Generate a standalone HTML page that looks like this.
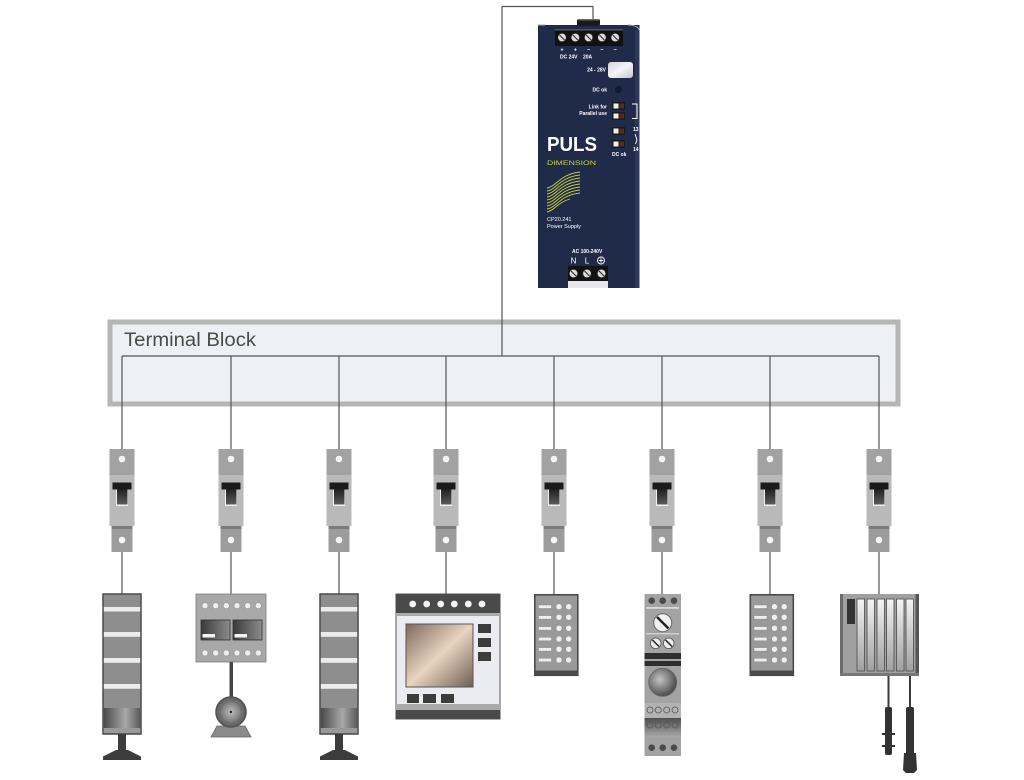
<!DOCTYPE html>
<html><head><meta charset="utf-8"><style>
html,body{margin:0;padding:0;background:#fff;}
svg{display:block;}
text{font-family:"Liberation Sans",Arial,sans-serif;}
</style></head><body>
<svg width="1024" height="780" viewBox="0 0 1024 780" xmlns="http://www.w3.org/2000/svg">
<defs>
 <linearGradient id="lever" x1="0" y1="0" x2="0" y2="1"><stop offset="0" stop-color="#222"/><stop offset="1" stop-color="#5a5a5a"/></linearGradient>
 <linearGradient id="towerDark" x1="0" y1="0" x2="1" y2="0"><stop offset="0" stop-color="#4a4a4a"/><stop offset="0.6" stop-color="#a8a8a8"/><stop offset="1" stop-color="#5a5a5a"/></linearGradient>
 <linearGradient id="win" x1="0" y1="0" x2="1" y2="0"><stop offset="0" stop-color="#3a3a3a"/><stop offset="1" stop-color="#8c8c8c"/></linearGradient>
 <linearGradient id="screen" x1="0" y1="0" x2="1" y2="1"><stop offset="0" stop-color="#7e695c"/><stop offset="0.5" stop-color="#e9d4c0"/><stop offset="1" stop-color="#6f5e54"/></linearGradient>
 <radialGradient id="motor" cx="0.5" cy="0.5" r="0.5"><stop offset="0" stop-color="#bdbdbd"/><stop offset="1" stop-color="#5a5a5a"/></radialGradient>
 <radialGradient id="bigc" cx="0.4" cy="0.4" r="0.6"><stop offset="0" stop-color="#c4c4c4"/><stop offset="1" stop-color="#4e4e4e"/></radialGradient>
 <linearGradient id="slot" x1="0" y1="0" x2="0" y2="1"><stop offset="0" stop-color="#f4f4f4"/><stop offset="1" stop-color="#a0a0a0"/></linearGradient>
 <linearGradient id="relay" x1="0" y1="0" x2="0" y2="1"><stop offset="0" stop-color="#4e4e4e"/><stop offset="1" stop-color="#a8a8a8"/></linearGradient>
 <linearGradient id="btn" x1="0" y1="0" x2="1" y2="1"><stop offset="0" stop-color="#cfd2d8"/><stop offset="0.5" stop-color="#f5f6f8"/><stop offset="1" stop-color="#c2c5cc"/></linearGradient>

 <g id="brk">
  <rect x="-12.5" y="449" width="25" height="26" fill="#a2a2a2"/>
  <rect x="-12.5" y="475" width="25" height="51" fill="#b9b9b9"/>
  <rect x="-10.5" y="526" width="21" height="26" fill="#9c9c9c"/>
  <rect x="-10.5" y="526" width="21" height="3" fill="#7c7c7c"/>
  <circle cx="0" cy="459" r="3.3" fill="#f6f6f6"/>
  <circle cx="0" cy="540" r="3.3" fill="#f6f6f6"/>
  <rect x="-9.5" y="482.5" width="19" height="7" fill="#1b1b1b"/>
  <rect x="-6" y="489.5" width="12" height="16.5" fill="#f2f2f2"/>
  <rect x="-5" y="489.5" width="10.5" height="15" fill="url(#lever)"/>
 </g>

 <g id="tower">
  <rect x="104" y="594" width="38" height="140" fill="#8e8e8e" stroke="#4a4a4a" stroke-width="1.5"/>
  <rect x="104.8" y="607" width="36.4" height="4.5" fill="#ececec"/>
  <rect x="104.8" y="632" width="36.4" height="4.8" fill="#ececec"/>
  <rect x="104.8" y="658" width="36.4" height="4.8" fill="#ececec"/>
  <rect x="104.8" y="684" width="36.4" height="4.8" fill="#ececec"/>
  <rect x="104.8" y="708" width="36.4" height="20" fill="url(#towerDark)"/>
  <rect x="104.8" y="728" width="36.4" height="5" fill="#9a9a9a"/>
  <rect x="119" y="734" width="8" height="17" fill="#3c3c3c"/>
  <polygon points="117,750 129,750 142,756.5 142,760 104,760 104,756.5" fill="#3c3c3c"/>
 </g>

 <g id="io">
  <rect x="534.8" y="594.8" width="43" height="80.5" fill="#9a9a9a" stroke="#4a4a4a" stroke-width="1.6"/>
  <rect x="534.8" y="670.5" width="43" height="5" fill="#4a4a4a"/>
  <g fill="#eeeeee" stroke="#8a8a8a" stroke-width="0.5">
   <rect x="538.5" y="605" width="13" height="3.5"/>
   <rect x="538.5" y="615.6" width="13" height="3.5"/>
   <rect x="538.5" y="626.6" width="13" height="3.5"/>
   <rect x="538.5" y="637.3" width="13" height="3.5"/>
   <rect x="538.5" y="647.6" width="13" height="3.5"/>
   <rect x="538.5" y="658.3" width="13" height="3.5"/>
   <circle cx="559" cy="606.7" r="3"/><circle cx="568.7" cy="606.7" r="3"/>
   <circle cx="559" cy="617.3" r="3"/><circle cx="568.7" cy="617.3" r="3"/>
   <circle cx="559" cy="628.3" r="3"/><circle cx="568.7" cy="628.3" r="3"/>
   <circle cx="559" cy="639" r="3"/><circle cx="568.7" cy="639" r="3"/>
   <circle cx="559" cy="649.3" r="3"/><circle cx="568.7" cy="649.3" r="3"/>
   <circle cx="559" cy="660" r="3"/><circle cx="568.7" cy="660" r="3"/>
  </g>
 </g>
</defs>

<!-- Terminal block -->
<rect x="110" y="322" width="788" height="82" fill="#eef0f6" stroke="#b5b5b5" stroke-width="5"/>
<text x="124" y="346" font-size="19" fill="#4a4a4a" textLength="132" lengthAdjust="spacingAndGlyphs">Terminal Block</text>

<!-- wires -->
<g stroke="#555" stroke-width="1.2" fill="none">
 <path d="M593 20 V6.5 H502 V356"/>
 <path d="M122 356 H879"/>
 <path d="M122 356 V449 M231 356 V449 M339 356 V449 M446 356 V449 M554 356 V449 M662 356 V449 M770 356 V449 M879 356 V449"/>
 <path d="M122 552 V594 M231 552 V594 M339 552 V594 M446 552 V594 M554 552 V594 M662 552 V594 M770 552 V594 M879 552 V594"/>
</g>

<!-- breakers -->
<use href="#brk" x="122"/>
<use href="#brk" x="231"/>
<use href="#brk" x="339"/>
<use href="#brk" x="446"/>
<use href="#brk" x="554"/>
<use href="#brk" x="662"/>
<use href="#brk" x="770"/>
<use href="#brk" x="879"/>

<!-- Device 1 & 3 : towers -->
<use href="#tower" x="-1"/>
<use href="#tower" x="216"/>

<!-- Device 2: contactor + motor -->
<rect x="196" y="594" width="70" height="68" fill="#a8a8a8" stroke="#7a7a7a" stroke-width="0.8"/>
<g fill="#efefef" stroke="#888" stroke-width="0.5">
 <circle cx="205" cy="605.7" r="3"/><circle cx="215.7" cy="605.7" r="3"/><circle cx="226.3" cy="605.7" r="3"/><circle cx="237" cy="605.7" r="3"/><circle cx="247.7" cy="605.7" r="3"/><circle cx="258.3" cy="605.7" r="3"/>
 <circle cx="205" cy="653" r="3"/><circle cx="215.7" cy="653" r="3"/><circle cx="226.3" cy="653" r="3"/><circle cx="237" cy="653" r="3"/><circle cx="247.7" cy="653" r="3"/><circle cx="258.3" cy="653" r="3"/>
</g>
<rect x="201" y="620" width="29" height="20" fill="url(#win)" stroke="#333" stroke-width="0.8"/>
<rect x="233" y="620" width="29" height="20" fill="url(#win)" stroke="#333" stroke-width="0.8"/>
<rect x="202.5" y="634" width="12.5" height="3.5" fill="#f2f2f2"/>
<rect x="234.5" y="634" width="12.5" height="3.5" fill="#f2f2f2"/>
<rect x="229.5" y="662" width="3.5" height="36" fill="#444"/>
<polygon points="217,726 245,726 251,737 211,737" fill="#8a8a8a" stroke="#666" stroke-width="0.8"/>
<circle cx="231" cy="712" r="15" fill="url(#motor)" stroke="#555" stroke-width="1.6"/>
<circle cx="231" cy="712" r="11" fill="none" stroke="#6a6a6a" stroke-width="1"/>
<circle cx="231" cy="712" r="1.2" fill="#222"/>

<!-- Device 4: HMI -->
<rect x="396" y="594" width="104" height="125" fill="#ebecf1" stroke="#555" stroke-width="1"/>
<rect x="396" y="594" width="104" height="19" fill="#4a4a4a"/>
<rect x="396" y="613" width="104" height="3" fill="#aaa"/>
<g fill="#f4f4f4">
 <circle cx="412.7" cy="604" r="3.4"/><circle cx="426.7" cy="604" r="3.4"/><circle cx="440.7" cy="604" r="3.4"/><circle cx="454.3" cy="604" r="3.4"/><circle cx="468.3" cy="604" r="3.4"/><circle cx="482" cy="604" r="3.4"/>
</g>
<rect x="406" y="624" width="67" height="63" fill="url(#screen)" stroke="#555" stroke-width="1"/>
<g fill="#3c3c3c">
 <rect x="478" y="624" width="13" height="9"/><rect x="478" y="638" width="13" height="9"/><rect x="478" y="652" width="13" height="9"/>
 <rect x="407" y="694" width="12" height="9"/><rect x="423" y="694" width="13" height="9"/><rect x="441" y="694" width="13" height="9"/>
</g>
<rect x="396" y="704" width="104" height="6" fill="#aaa"/>
<rect x="396" y="710" width="104" height="9" fill="#4a4a4a"/>

<!-- Device 5 & 7 -->
<use href="#io"/>
<use href="#io" x="215.5"/>

<!-- Device 6: DIN module -->
<rect x="644.5" y="594" width="36.5" height="162" fill="#a3a3a3"/>
<g fill="#4a4a4a"><circle cx="651.7" cy="600.7" r="3.3"/><circle cx="662.7" cy="600.7" r="3.3"/><circle cx="674" cy="600.7" r="3.3"/></g>
<rect x="646" y="607" width="33" height="1.8" fill="#d8d8d8"/>
<circle cx="662.7" cy="622.7" r="9" fill="#f2f2f2" stroke="#666" stroke-width="1"/>
<line x1="657" y1="617" x2="668.4" y2="628.4" stroke="#222" stroke-width="2.4"/>
<rect x="646" y="633" width="33" height="1.5" fill="#cfcfcf"/>
<circle cx="655.7" cy="643.3" r="5.3" fill="#eee" stroke="#555" stroke-width="0.8"/>
<circle cx="668.7" cy="643.3" r="5.3" fill="#eee" stroke="#555" stroke-width="0.8"/>
<line x1="652.5" y1="640" x2="659" y2="646.5" stroke="#222" stroke-width="1.5"/>
<line x1="665.5" y1="640" x2="672" y2="646.5" stroke="#222" stroke-width="1.5"/>
<rect x="644.5" y="653" width="36.5" height="6" fill="#2e2e2e"/>
<rect x="644.5" y="661" width="36.5" height="5" fill="#2e2e2e"/>
<circle cx="662.7" cy="682.3" r="14" fill="url(#bigc)" stroke="#666" stroke-width="0.8"/>
<rect x="644.5" y="703" width="36.5" height="15" fill="#b2b2b2"/>
<rect x="644.5" y="718" width="36.5" height="19" fill="url(#relay)"/>
<g fill="none" stroke="#555" stroke-width="0.8">
 <circle cx="650" cy="710" r="3"/><circle cx="658.3" cy="710" r="3"/><circle cx="666.7" cy="710" r="3"/><circle cx="675" cy="710" r="3"/>
 <circle cx="650" cy="725" r="3"/><circle cx="658.3" cy="725" r="3"/><circle cx="666.7" cy="725" r="3"/><circle cx="675" cy="725" r="3"/>
</g>
<g fill="#4a4a4a"><circle cx="651.7" cy="747.7" r="3.3"/><circle cx="662.7" cy="747.7" r="3.3"/><circle cx="674" cy="747.7" r="3.3"/></g>

<!-- Device 8: PLC rack + sensors -->
<rect x="840" y="594" width="79" height="82" fill="#a0a0a0"/>
<rect x="840" y="594" width="3" height="82" fill="#6a6a6a"/>
<rect x="915.5" y="594" width="3.5" height="82" fill="#555"/>
<rect x="840" y="673" width="79" height="3" fill="#777"/>
<rect x="847" y="599" width="8" height="25" fill="#333"/>
<g fill="url(#slot)" stroke="#555" stroke-width="0.9">
 <rect x="857" y="599" width="7.5" height="72"/>
 <rect x="867" y="599" width="7.5" height="72"/>
 <rect x="877" y="599" width="7.5" height="72"/>
 <rect x="886.5" y="599" width="7.5" height="72"/>
 <rect x="896.5" y="599" width="7.5" height="72"/>
 <rect x="906" y="599" width="7.5" height="72"/>
</g>
<g stroke="#3a3a3a" stroke-width="2"><line x1="888.5" y1="676" x2="888.5" y2="708"/><line x1="910" y1="676" x2="910" y2="708"/></g>
<rect x="885" y="707" width="7" height="48" rx="2" fill="#333"/>
<rect x="882" y="733" width="13" height="2" fill="#333"/>
<rect x="882" y="745" width="13" height="2" fill="#333"/>
<rect x="906" y="707" width="8" height="48" rx="2" fill="#333"/>
<polygon points="904,753 916,753 917,770 914,773 906,773 903,770" fill="#333"/>

<!-- Power supply -->
<rect x="538" y="25" width="101.5" height="263" fill="#202b4a"/>
<rect x="635" y="30" width="4.5" height="258" fill="#2b3658"/>
<path d="M538 25 H545" stroke="#aaa" stroke-width="1"/>
<path d="M628 25 Q637 25 639.5 30" stroke="#aaa" stroke-width="1" fill="none"/>
<rect x="577" y="19" width="23" height="7" rx="2" fill="#1a1a1a"/>
<rect x="578" y="19" width="21" height="1.5" fill="#666"/>
<rect x="555" y="29" width="68" height="17" fill="#111"/>
<rect x="555" y="29" width="68" height="1.5" fill="#555"/>
<g fill="#ddd" stroke="#222" stroke-width="0.8">
 <circle cx="562" cy="37.5" r="4.3"/><circle cx="575.3" cy="37.5" r="4.3"/><circle cx="588.6" cy="37.5" r="4.3"/><circle cx="601.9" cy="37.5" r="4.3"/><circle cx="615.2" cy="37.5" r="4.3"/>
</g>
<g stroke="#333" stroke-width="1.2">
 <line x1="559.5" y1="35" x2="564.5" y2="40"/><line x1="572.8" y1="35" x2="577.8" y2="40"/><line x1="586.1" y1="35" x2="591.1" y2="40"/><line x1="599.4" y1="35" x2="604.4" y2="40"/><line x1="612.7" y1="35" x2="617.7" y2="40"/>
</g>
<g fill="#fff" font-size="5.5" font-weight="bold">
 <text x="562" y="51.5" text-anchor="middle">+</text>
 <text x="575.3" y="51.5" text-anchor="middle">+</text>
 <text x="588.6" y="51.5" text-anchor="middle">−</text>
 <text x="601.9" y="51.5" text-anchor="middle">−</text>
 <text x="615.2" y="51.5" text-anchor="middle">−</text>
 <text x="560" y="58.5" font-size="5">DC 24V</text>
 <text x="583" y="58.5" font-size="5">20A</text>
 <text x="606" y="71.5" font-size="5" text-anchor="end">24 - 28V</text>
 <text x="607" y="91.5" font-size="5" text-anchor="end">DC ok</text>
 <text x="607" y="108.5" font-size="5" text-anchor="end">Link for</text>
 <text x="607" y="115" font-size="5" text-anchor="end">Parallel use</text>
 <text x="633" y="131" font-size="5">13</text>
 <text x="633" y="151" font-size="5">14</text>
 <text x="612" y="156" font-size="5">DC ok</text>
 <text x="547" y="221" font-size="5.5" font-weight="normal">CP20.241</text>
 <text x="547" y="228" font-size="5.5" font-weight="normal">Power Supply</text>
 <text x="572" y="253" font-size="5">AC 100-240V</text>
 <text x="573.5" y="263.5" font-size="8" font-weight="normal" text-anchor="middle">N</text>
 <text x="587" y="263.5" font-size="8" font-weight="normal" text-anchor="middle">L</text>
</g>
<rect x="608" y="62" width="25" height="16" rx="3" fill="url(#btn)"/>
<circle cx="618.3" cy="89.5" r="3.5" fill="#121a30"/>
<g>
 <rect x="612" y="102" width="13" height="8" fill="#1a1a1a"/><rect x="613.5" y="103.5" width="5" height="5" fill="#eee"/><rect x="619.5" y="103.5" width="4.5" height="5" fill="#5a2a1e"/>
 <rect x="612" y="112" width="13" height="8" fill="#1a1a1a"/><rect x="613.5" y="113.5" width="5" height="5" fill="#eee"/><rect x="619.5" y="113.5" width="4.5" height="5" fill="#5a2a1e"/>
 <rect x="612" y="127" width="13" height="8" fill="#1a1a1a"/><rect x="613.5" y="128.5" width="5" height="5" fill="#eee"/><rect x="619.5" y="128.5" width="4.5" height="5" fill="#5a2a1e"/>
 <rect x="612" y="140" width="13" height="8" fill="#1a1a1a"/><rect x="613.5" y="141.5" width="5" height="5" fill="#eee"/><rect x="619.5" y="141.5" width="4.5" height="5" fill="#5a2a1e"/>
</g>
<path d="M632 104 H637 V118.5 H632" stroke="#fff" stroke-width="1" fill="none"/>
<path d="M635 134 L637 140 L635.5 144" stroke="#fff" stroke-width="0.9" fill="none"/>
<text x="547" y="151" font-size="20" font-weight="bold" fill="#fff" textLength="50" lengthAdjust="spacingAndGlyphs">PULS</text>
<text x="547" y="165" font-size="6.5" fill="#c9d43b" textLength="49" lengthAdjust="spacingAndGlyphs">DIMENSION</text>
<g stroke="#c9d43b" stroke-width="0.9" fill="none">
 <path d="M547 188 C556 187 560 174 580 172"/>
 <path d="M547 191 C556 190 560 177 580 175"/>
 <path d="M547 194 C556 193 560 180 580 178"/>
 <path d="M547 197 C556 196 560 183 580 181"/>
 <path d="M547 200 C556 199 560 186 580 184"/>
 <path d="M547 203 C556 202 560 189 580 187"/>
 <path d="M547 206 C556 205 560 192 580 190"/>
 <path d="M547 209 C556 208 560 195 580 193"/>
 <path d="M547 212 C554 211 558 202 570 199"/>
</g>
<circle cx="601" cy="260.5" r="3.5" fill="none" stroke="#fff" stroke-width="0.9"/>
<path d="M598.8 260.5 H603.2 M601 258.3 V262.7" stroke="#fff" stroke-width="0.9"/>
<rect x="568" y="266" width="40" height="15" fill="#111"/>
<g fill="#ddd" stroke="#222" stroke-width="0.8">
 <circle cx="573.5" cy="273.5" r="4.3"/><circle cx="587" cy="273.5" r="4.3"/><circle cx="601.5" cy="273.5" r="4.3"/>
</g>
<g stroke="#333" stroke-width="1.2">
 <line x1="571" y1="271" x2="576" y2="276"/><line x1="584.5" y1="271" x2="589.5" y2="276"/><line x1="599" y1="271" x2="604" y2="276"/>
</g>
<rect x="568" y="281" width="40" height="7" fill="#e6e7ea"/>
</svg>
</body></html>
